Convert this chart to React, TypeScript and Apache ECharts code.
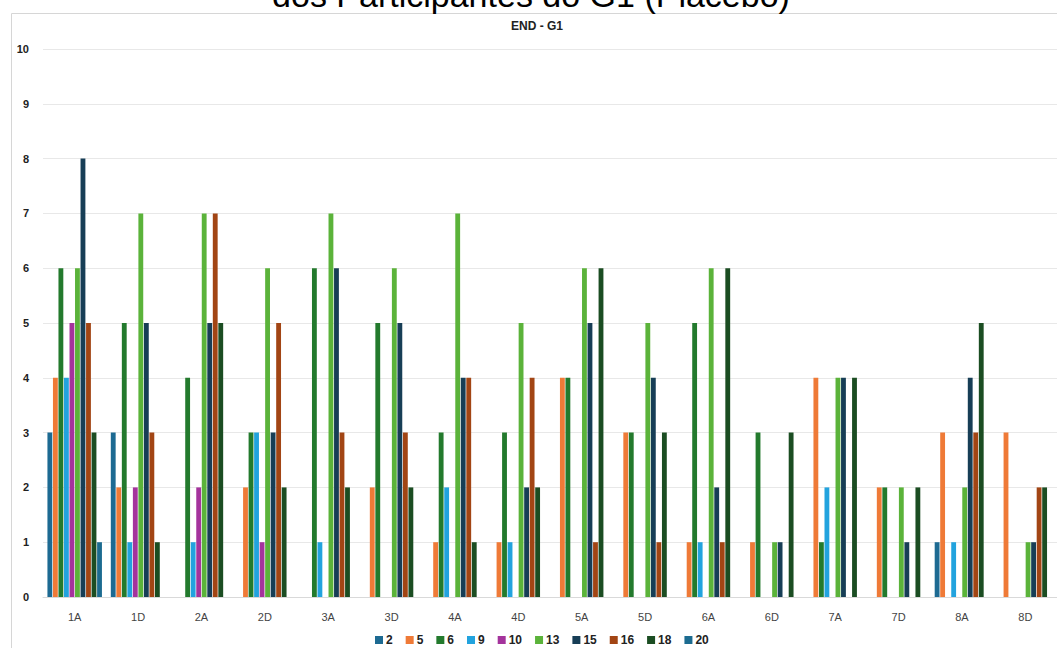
import React, { useEffect, useRef } from "react";
import * as echarts from "echarts";

const categories = ["1A", "1D", "2A", "2D", "3A", "3D", "4A", "4D", "5A", "5D", "6A", "6D", "7A", "7D", "8A", "8D"];
const seriesNames = ["2", "5", "6", "9", "10", "13", "15", "16", "18", "20"];
const seriesColors = ["#1d6a92", "#ef7a37", "#237a2d", "#22a3de", "#a4339c", "#5bb33a", "#173e56", "#a24514", "#1b4d22", "#1c6b90"];

const s2 = [3, 3, 0, 0, 0, 0, 0, 0, 0, 0, 0, 0, 0, 0, 1, 0];
const s5 = [4, 2, 0, 2, 0, 2, 1, 1, 4, 3, 1, 1, 4, 2, 3, 3];
const s6 = [6, 5, 4, 3, 6, 5, 3, 3, 4, 3, 5, 3, 1, 2, 0, 0];
const s9 = [4, 1, 1, 3, 1, 0, 2, 1, 0, 0, 1, 0, 2, 0, 1, 0];
const s10 = [5, 2, 2, 1, 0, 0, 0, 0, 0, 0, 0, 0, 0, 0, 0, 0];
const s13 = [6, 7, 7, 6, 7, 6, 7, 5, 6, 5, 6, 1, 4, 2, 2, 1];
const s15 = [8, 5, 5, 3, 6, 5, 4, 2, 5, 4, 2, 1, 4, 1, 4, 1];
const s16 = [5, 3, 7, 5, 3, 3, 4, 4, 1, 1, 1, 0, 0, 0, 3, 2];
const s18 = [3, 1, 5, 2, 2, 2, 1, 2, 6, 3, 6, 3, 4, 2, 5, 2];
const s20 = [1, 0, 0, 0, 0, 0, 0, 0, 0, 0, 0, 0, 0, 0, 0, 0];
const seriesValues = [s2, s5, s6, s9, s10, s13, s15, s16, s18, s20];

const yTicks = [0, 1, 2, 3, 4, 5, 6, 7, 8, 9, 10];

const FONT = "Arial, 'Liberation Sans', sans-serif";

export default function App() {
  const ref = useRef<HTMLDivElement>(null);
  useEffect(() => {
    if (!ref.current) return;
    const chart = echarts.init(ref.current, null, { renderer: "svg" });
    chart.setOption({
      animation: false,
      textStyle: { fontFamily: FONT },
      grid: { left: 43, top: 49, width: 1016, bottom: 51, containLabel: false },
      legend: {
        data: seriesNames,
        left: 370,
        top: 629,
        itemWidth: 8,
        itemHeight: 8,
        itemGap: 13,
        icon: "rect",
        textStyle: { fontFamily: FONT, fontSize: 12, fontWeight: "bold", color: "#222", padding: [0, 0, 0, -2] },
      },
      xAxis: {
        type: "category",
        data: categories,
        axisTick: { show: false },
        axisLine: { lineStyle: { color: "#d9d9d9" } },
        axisLabel: { fontFamily: FONT, fontSize: 11, color: "#444", margin: 14 },
      },
      yAxis: {
        type: "value",
        min: yTicks[0],
        max: yTicks[yTicks.length - 1],
        interval: 1,
        axisLine: { show: false },
        axisTick: { show: false },
        splitLine: { lineStyle: { color: "#e8e8e8" } },
        axisLabel: { fontFamily: FONT, fontSize: 11, fontWeight: "bold", color: "#222", margin: 14 },
      },
      series: seriesNames.map((name, i) => ({
        name,
        type: "bar",
        data: seriesValues[i],
        barGap: "14%",
        barCategoryGap: "14%",
        itemStyle: { color: seriesColors[i] },
      })),
      graphic: [
        {
          type: "rect",
          shape: { x: 11.5, y: 13.5, width: 1200, height: 800 },
          style: { fill: "none", stroke: "#d6d6d6", lineWidth: 1 },
          silent: true,
        },
        {
          type: "text",
          x: 531,
          y: -5,
          style: {
            text: "dos Participantes do G1 (Placebo)",
            fontFamily: FONT,
            fontSize: 34,
            fill: "#000",
            textAlign: "center",
            textVerticalAlign: "middle",
          },
        },
        {
          type: "text",
          x: 537,
          y: 26,
          style: {
            text: "END - G1",
            fontFamily: FONT,
            fontSize: 12,
            fontWeight: "bold",
            fill: "#222",
            textAlign: "center",
            textVerticalAlign: "middle",
          },
        },
      ],
    });
    return () => chart.dispose();
  }, []);
  return <div ref={ref} style={{ position: "fixed", left: 0, top: 0, width: 1057, height: 648, background: "#fff" }} />;
}
